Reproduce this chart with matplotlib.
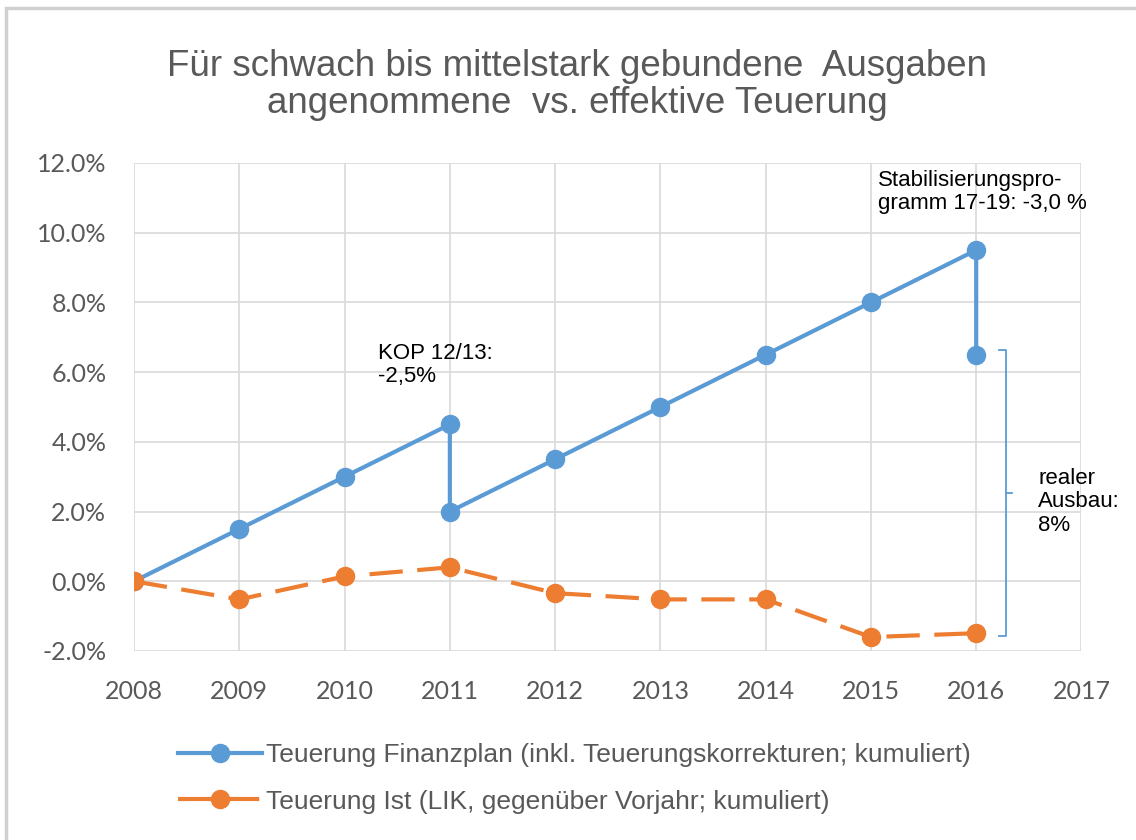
import matplotlib.pyplot as plt
import matplotlib.ticker as mticker
from matplotlib.patches import Rectangle

# ── data ─────────────────────────────────────────────────────────────
plan_years = [2008, 2009, 2010, 2011, 2011, 2012, 2013, 2014, 2015, 2016, 2016]
plan_values = [0.0, 1.5, 3.0, 4.5, 2.0, 3.5, 5.0, 6.5, 8.0, 9.5, 6.5]

ist_years = [2008, 2009, 2010, 2011, 2012, 2013, 2014, 2015, 2016]
ist_values = [0.0, -0.52, 0.14, 0.4, -0.34, -0.52, -0.52, -1.6, -1.49]

plan_label = "Teuerung Finanzplan (inkl. Teuerungskorrekturen; kumuliert)"
ist_label = "Teuerung Ist (LIK, gegenüber Vorjahr; kumuliert)"
title = "Für schwach bis mittelstark gebundene  Ausgaben\nangenommene  vs. effektive Teuerung"

BLUE = "#5B9BD5"
ORANGE = "#ED7D31"
GREY = "#595959"
FONT = "Liberation Sans"

fig = plt.figure(figsize=(11.36, 8.4), dpi=100)
fig.patches.append(Rectangle((0.005, -0.01), 1.0, 1.0, transform=fig.transFigure,
                             fill=False, edgecolor="#d0d0d0", linewidth=2.5))
ax = fig.add_axes([0.118, 0.225, 0.834, 0.581])

ax.plot(plan_years, plan_values, color=BLUE, linewidth=3.0, marker="o",
        markersize=13, label=plan_label, zorder=4)
ax.plot(ist_years, ist_values, color=ORANGE, linewidth=3.0, marker="o",
        markersize=13, dashes=(8, 3.5), label=ist_label, zorder=4)

ax.set_xlim(2008, 2017)
ax.set_ylim(-2, 12)
ax.set_xticks(range(2008, 2018))
ax.set_yticks(range(-2, 13, 2))
ax.yaxis.set_major_formatter(mticker.FuncFormatter(lambda v, _: f"{v:.1f}%"))
ax.grid(True, color="#d9d9d9", linewidth=1.2)
ax.set_axisbelow(True)
for s in ax.spines.values():
    s.set_visible(False)
ax.tick_params(length=0, labelsize=18, labelcolor=GREY)
ax.tick_params(axis="x", pad=21)
ax.tick_params(axis="y", pad=20)
for lab in ax.get_xticklabels() + ax.get_yticklabels():
    lab.set_family("Lato")

# annotations
ax.text(2010.32, 6.84, "KOP 12/13:\n-2,5%", fontsize=16, family=FONT,
        va="top", ha="left", linespacing=1.15)
ax.text(2015.07, 11.8, "Stabilisierungspro-\ngramm 17-19: -3,0 %", fontsize=16,
        family=FONT, va="top", ha="left", linespacing=1.15)

# bracket
bx, bt, bb = 2016.28, 6.63, -1.57
ax.plot([bx - 0.06, bx, bx, bx - 0.06], [bt, bt, bb, bb], color=BLUE,
        linewidth=1.3, clip_on=False)
ax.plot([bx, bx + 0.06], [(bt + bb) / 2] * 2, color=BLUE, linewidth=1.3,
        clip_on=False)
ax.text(2016.59, 3.25, "realer\nAusbau:\n8%", fontsize=16, family=FONT,
        va="top", ha="left", linespacing=1.15)

fig.suptitle(title, fontsize=26.5, color=GREY, family=FONT, x=0.508, y=0.942,
             linespacing=1.07)

leg = fig.legend(loc="upper left", bbox_to_anchor=(0.145, 0.131), frameon=False,
                 prop={"family": FONT, "size": 19}, labelcolor=GREY,
                 handlelength=3.2, labelspacing=0.85, handletextpad=0.15,
                 borderpad=0.0)

fig.savefig("out.png", dpi=100)
